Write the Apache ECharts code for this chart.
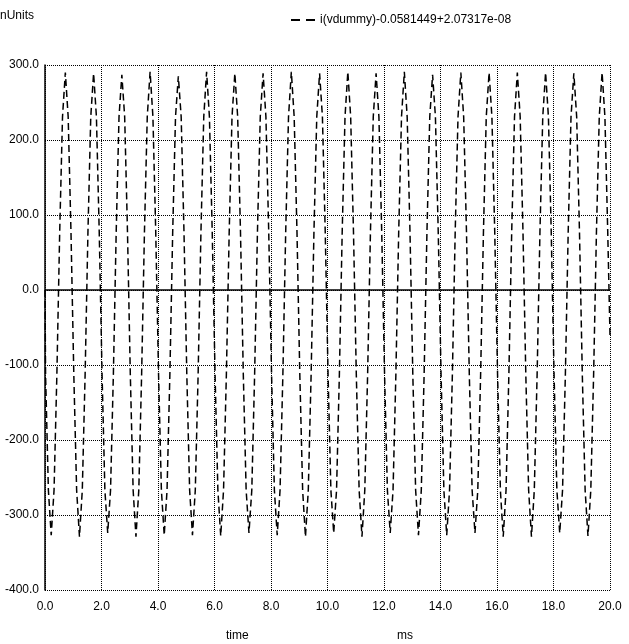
<!DOCTYPE html>
<html>
<head>
<meta charset="utf-8">
<script src="https://cdn.jsdelivr.net/npm/echarts@6/dist/echarts.min.js"></script>
<style>
html,body{margin:0;padding:0;background:#fff;}
#c{width:629px;height:644px;}
</style>
</head>
<body>
<div id="c"></div>
<script>
// time in ms
const timeMs = [
  0,
  0.02,0.12,0.22,0.32,0.42,0.52,0.62,0.72,0.82,0.92,
  1.02,1.12,1.22,1.32,1.42,1.52,1.62,1.72,1.82,1.92,
  2.02,2.12,2.22,2.32,2.42,2.52,2.62,2.72,2.82,2.92,
  3.02,3.12,3.22,3.32,3.42,3.52,3.62,3.72,3.82,3.92,
  4.02,4.12,4.22,4.32,4.42,4.52,4.62,4.72,4.82,4.92,
  5.02,5.12,5.22,5.32,5.42,5.52,5.62,5.72,5.82,5.92,
  6.02,6.12,6.22,6.32,6.42,6.52,6.62,6.72,6.82,6.92,
  7.02,7.12,7.22,7.32,7.42,7.52,7.62,7.72,7.82,7.92,
  8.02,8.12,8.22,8.32,8.42,8.52,8.62,8.72,8.82,8.92,
  9.02,9.12,9.22,9.32,9.42,9.52,9.62,9.72,9.82,9.92,
  10.02,10.12,10.22,10.32,10.42,10.52,10.62,10.72,10.82,10.92,
  11.02,11.12,11.22,11.32,11.42,11.52,11.62,11.72,11.82,11.92,
  12.02,12.12,12.22,12.32,12.42,12.52,12.62,12.72,12.82,12.92,
  13.02,13.12,13.22,13.32,13.42,13.52,13.62,13.72,13.82,13.92,
  14.02,14.12,14.22,14.32,14.42,14.52,14.62,14.72,14.82,14.92,
  15.02,15.12,15.22,15.32,15.42,15.52,15.62,15.72,15.82,15.92,
  16.02,16.12,16.22,16.32,16.42,16.52,16.62,16.72,16.82,16.92,
  17.02,17.12,17.22,17.32,17.42,17.52,17.62,17.72,17.82,17.92,
  18.02,18.12,18.22,18.32,18.42,18.52,18.62,18.72,18.82,18.92,
  19.02,19.12,19.22,19.32,19.42,19.52,19.62,19.72,19.82,19.92,
  20
];
// i(vdummy) in nUnits
const current = [
  0,
  -113,-267,-327,-267,-113,77,231,290,231,77,
  -113,-267,-329,-267,-113,77,231,289,231,77,
  -113,-267,-324,-267,-113,77,231,287,231,77,
  -113,-267,-329,-267,-113,77,231,291,231,77,
  -113,-267,-327,-267,-113,77,231,285,231,77,
  -113,-267,-327,-267,-113,77,231,291,231,77,
  -113,-267,-328,-267,-113,77,231,289,231,77,
  -113,-267,-324,-267,-113,77,231,289,231,77,
  -113,-267,-327,-267,-113,77,231,291,231,77,
  -113,-267,-329,-267,-113,77,231,289,231,77,
  -113,-267,-324,-267,-113,77,231,291,231,77,
  -113,-267,-329,-267,-113,77,231,289,231,77,
  -113,-267,-324,-267,-113,77,231,291,231,77,
  -113,-267,-327,-267,-113,77,231,287,231,77,
  -113,-267,-327,-267,-113,77,231,290,231,77,
  -113,-267,-324,-267,-113,77,231,290,231,77,
  -113,-267,-329,-267,-113,77,231,290,231,77,
  -113,-267,-329,-267,-113,77,231,290,231,77,
  -113,-267,-324,-267,-113,77,231,289,231,77,
  -113,-267,-328,-267,-113,77,231,290,231,77,
  -60
];
const seriesName = 'i(vdummy)-0.0581449+2.07317e-08';
const xTicks = {min: 0, max: 20, interval: 2};
const yTicks = {min: -400, max: 300, interval: 100};

const FONT = "'Liberation Sans', Arial, sans-serif";
const chart = echarts.init(document.getElementById('c'), null, {renderer: 'canvas'});
const data = timeMs.map((t, i) => [t, current[i]]);

chart.setOption({
  animation: false,
  backgroundColor: '#fff',
  textStyle: {fontFamily: FONT},
  grid: {left: 45, right: 19, top: 65, bottom: 54, containLabel: false},
  legend: {
    left: 286, top: 9,
    itemWidth: 24, itemHeight: 10, itemGap: 5,
    textStyle: {fontFamily: FONT, fontSize: 12, color: '#000'},
    data: [{name: seriesName, icon: 'path://M0,4 L9,4 L9,6 L0,6 Z M15,4 L24,4 L24,6 L15,6 Z', itemStyle: {color: '#000'}}]
  },
  graphic: [
    {type: 'text', left: 0, top: 10, style: {text: 'nUnits', font: '12px ' + FONT, fill: '#000'}},
    {type: 'text', left: 226, top: 630, style: {text: 'time', font: '12px ' + FONT, fill: '#000'}},
    {type: 'text', left: 397, top: 630, style: {text: 'ms', font: '12px ' + FONT, fill: '#000'}}
  ],
  xAxis: {
    type: 'value', min: xTicks.min, max: xTicks.max, interval: xTicks.interval,
    axisLine: {show: false}, axisTick: {show: false},
    axisLabel: {formatter: v => v.toFixed(1), fontSize: 12, color: '#000', margin: 11, fontFamily: FONT},
    splitLine: {show: true, lineStyle: {color: '#000', width: 1, type: [1, 1]}}
  },
  yAxis: {
    type: 'value', min: yTicks.min, max: yTicks.max, interval: yTicks.interval,
    axisLine: {show: true, onZero: false, lineStyle: {color: '#000', width: 1.5}},
    axisTick: {show: false},
    axisLabel: {formatter: v => v.toFixed(1), fontSize: 12, color: '#000', margin: 6, fontFamily: FONT},
    splitLine: {show: true, lineStyle: {color: '#000', width: 1, type: [1, 1]}}
  },
  series: [{
    name: seriesName,
    type: 'line',
    data: data,
    symbol: 'none',
    lineStyle: {color: '#000', width: 1.5, type: [7, 4]},
    itemStyle: {color: '#000'},
    markLine: {
      silent: true, symbol: 'none', label: {show: false},
      lineStyle: {color: '#000', width: 1.5, type: 'solid'},
      data: [{yAxis: 0}]
    }
  }]
});
</script>
</body>
</html>
